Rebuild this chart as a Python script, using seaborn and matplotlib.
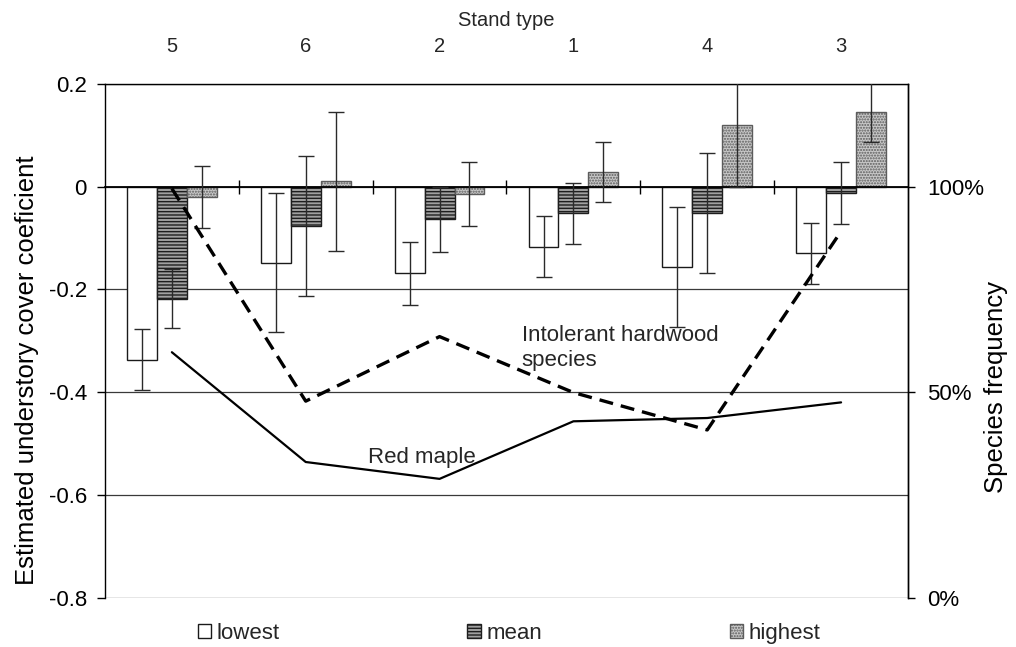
import numpy as np
import pandas as pd
import matplotlib
matplotlib.use("Agg")
import matplotlib.pyplot as plt
from matplotlib.ticker import FuncFormatter
import seaborn as sns

# Stand types in plotting order and the three coefficient statistics
stand_types = ["5", "6", "2", "1", "4", "3"]
statistics = ["lowest", "mean", "highest"]

# Estimated understory cover coefficients
lowest = [-0.337, -0.148, -0.169, -0.117, -0.157, -0.130]
mean = [-0.218, -0.077, -0.064, -0.052, -0.052, -0.013]
highest = [-0.020, 0.010, -0.014, 0.028, 0.120, 0.145]

# Error half-widths
lowest_err = [0.059, 0.136, 0.061, 0.059, 0.117, 0.059]
mean_err = [0.058, 0.136, 0.063, 0.059, 0.117, 0.060]
highest_err = [0.060, 0.135, 0.062, 0.059, 0.120, 0.058]

# Species frequency (%) by stand type
red_maple = [59.7, 33.0, 28.9, 42.9, 43.7, 47.5]
intolerant_hardwood = [99.5, 47.8, 63.5, 49.9, 40.8, 89.1]

sns.set_theme(style="white")
plt.rcParams["font.family"] = ["Liberation Sans", "DejaVu Sans"]
plt.rcParams["hatch.linewidth"] = 1.0

frames = []
for stat, vals, errs in zip(statistics, [lowest, mean, highest],
                            [lowest_err, mean_err, highest_err]):
    frames.append(pd.DataFrame({"stand": stand_types, "statistic": stat,
                                "value": vals, "err": errs}))
bars = pd.concat(frames, ignore_index=True)

fig = plt.figure(figsize=(10.16, 6.47), dpi=100)
ax = fig.add_axes([0.1033, 0.0762, 0.7904, 0.7944])

sns.barplot(data=bars, x="stand", y="value", hue="statistic",
            order=stand_types, hue_order=statistics, width=0.67,
            errorbar=None, legend=False, ax=ax)
bar_containers = list(ax.containers)

bar_styles = {
    "lowest": dict(facecolor="white", edgecolor="#1a1a1a", hatch=None),
    "mean": dict(facecolor="#a0a0a0", edgecolor="#1e1e1e", hatch="-----"),
    "highest": dict(facecolor="#c8c8c8", edgecolor="#5c5c5c", hatch="......"),
}

for container, stat in zip(bar_containers, statistics):
    for patch in container:
        patch.set(linewidth=1.0, **bar_styles[stat])
    sub = bars[bars["statistic"] == stat].set_index("stand").loc[stand_types]
    centers = [p.get_x() + p.get_width() / 2 for p in container]
    tops = [p.get_y() + p.get_height() for p in container]
    ax.errorbar(centers, tops, yerr=sub["err"].to_numpy(), fmt="none",
                ecolor="#2a2a2a", elinewidth=1.0, capsize=6, capthick=1.0,
                zorder=3)

# Left axis: coefficients
ax.set_xlim(-0.5, len(stand_types) - 0.5)
ax.set_ylim(-0.8, 0.2)
ax.set_yticks(np.round(np.arange(-0.8, 0.21, 0.2), 1))
ax.yaxis.set_major_formatter(
    FuncFormatter(lambda v, _: "0" if abs(v) < 1e-9 else f"{v:.1f}"))
ax.yaxis.grid(True, color="#3a3a3a", linewidth=0.9)
ax.xaxis.grid(False)
ax.set_axisbelow(True)

for side in ["left", "top", "right"]:
    ax.spines[side].set_color("black")
    ax.spines[side].set_linewidth(1.0)
ax.spines["bottom"].set_position(("data", 0))
ax.spines["bottom"].set_color("black")
ax.spines["bottom"].set_linewidth(1.3)

ax.set_xticks(range(len(stand_types)))
ax.set_xticklabels(stand_types)
ax.set_xticks(np.arange(0.5, len(stand_types) - 1, 1.0), minor=True)
ax.tick_params(axis="x", which="major", bottom=False, top=True,
               labelbottom=False, labeltop=True, length=0, pad=20,
               labelsize=14.5)
ax.tick_params(axis="x", which="minor", bottom=True, top=False,
               direction="inout", length=10, width=1.0, color="black")
ax.xaxis.set_label_position("top")
ax.set_xlabel("Stand type", fontsize=14.5, labelpad=8)

ax.tick_params(axis="y", left=True, direction="out", length=6, width=1.0,
               color="black", labelsize=16, pad=7, labelcolor="black")
ax.set_ylabel("Estimated understory cover coeficient", fontsize=18.5,
              labelpad=7, color="black")
ax.yaxis.label.set_y(0.443)

# Right axis: species frequency
ax2 = ax.twinx()
ax2.set_ylim(0, 125)
ax2.set_yticks([0, 50, 100])
ax2.yaxis.set_major_formatter(FuncFormatter(lambda v, _: f"{v:.0f}%"))
ax2.tick_params(axis="y", right=True, direction="out", length=5, width=1.0,
                color="black", labelsize=16, pad=9, labelcolor="black")
ax2.grid(False)
for side in ["left", "top", "right", "bottom"]:
    ax2.spines[side].set_visible(False)
ax2.spines["right"].set_visible(True)
ax2.spines["right"].set_color("black")
ax2.spines["right"].set_linewidth(1.0)
ax2.set_ylabel("Species frequency", fontsize=18.5, labelpad=0, color="black")
ax2.yaxis.label.set_y(0.41)

positions = np.arange(len(stand_types))
sns.lineplot(x=positions, y=red_maple, ax=ax2, color="black", linewidth=1.6)
sns.lineplot(x=positions, y=intolerant_hardwood, ax=ax2, color="black",
             linewidth=2.4, linestyle=(0, (4.2, 2.4)))

ax.text(1.468, -0.537, "Red maple", fontsize=16, va="baseline", zorder=5)
ax.text(2.614, -0.350, "Intolerant hardwood\nspecies", fontsize=16,
        va="baseline", linespacing=1.25, zorder=5)

handles = [c.patches[0] for c in bar_containers]
fig.legend(handles=handles, labels=statistics, loc="center",
           bbox_to_anchor=(0.501, 0.0216), ncol=3, frameon=False,
           fontsize=16, handlelength=0.6, handleheight=0.6,
           handletextpad=0.25, columnspacing=8.45)

fig.savefig("out.png", dpi=100, facecolor="white")
